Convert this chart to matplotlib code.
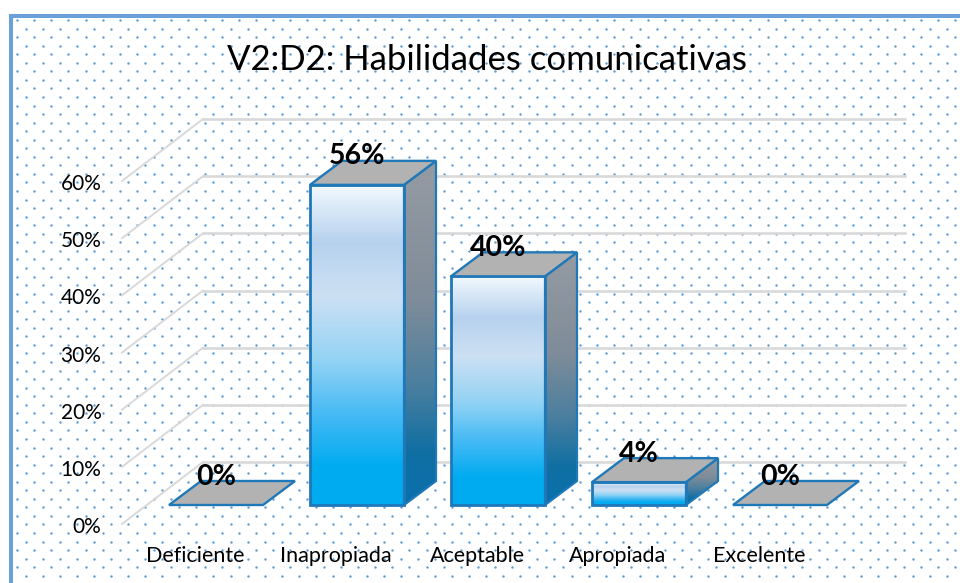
import numpy as np
import matplotlib
matplotlib.use("Agg")
import matplotlib.pyplot as plt
from matplotlib.colors import LinearSegmentedColormap
from matplotlib.patches import Polygon
from matplotlib.transforms import ScaledTranslation

plt.rcParams['font.family'] = ['Lato', 'DejaVu Sans']

# -------------------------------------------------------
# DATA
# -------------------------------------------------------
categories = ["Deficiente", "Inapropiada", "Aceptable", "Apropiada", "Excelente"]
values = [0, 56, 40, 4, 0]
value_labels = ["0%", "56%", "40%", "4%", "0%"]
y_ticks = [0, 10, 20, 30, 40, 50, 60]
y_tick_labels = ["0%", "10%", "20%", "30%", "40%", "50%", "60%"]
title = "V2:D2: Habilidades comunicativas"

W, H = 960, 583
EDGE = "#1F78B8"

fig = plt.figure(figsize=(W / 100, H / 100), dpi=100, facecolor="white")

# -------------------------------------------------------
# DOTTED BACKGROUND + BORDER
# -------------------------------------------------------
bg = fig.add_axes([0, 0, 1, 1], zorder=0)
bg.set_xlim(0, W)
bg.set_ylim(H, 0)
bg.axis("off")
for row, yy in enumerate(np.arange(20, H, 8.55)):
    xs = np.arange(17.3 if row % 2 == 0 else 25.9, W, 17.05)
    bg.scatter(xs, np.full_like(xs, yy), s=3.0, color="#5B9BD5", linewidths=0)
bg.plot([10.5, 10.5, W], [H, 15.5, 15.5], color="#6AA0D8", lw=2.9, solid_joinstyle="miter")

# -------------------------------------------------------
# CHART (axes = plane of the bar fronts)
# -------------------------------------------------------
left, right, base, top = 145.5, 850.5, 505, 162
ax = fig.add_axes([left / W, 1 - base / H, (right - left) / W, (base - top) / H], zorder=1)
ax.patch.set_alpha(0)
ax.set_xlim(-0.5, 4.5)
ax.set_ylim(0, 60)
for s in ax.spines.values():
    s.set_visible(False)

px_x = 5 / (right - left)
px_y = 60 / (base - top)

# gridlines on back wall and floor/wall diagonals
for t in y_ticks:
    x_back0 = -0.5 + (203 - left) * px_x
    x_back1 = -0.5 + (905 - left) * px_x
    y_back = t + (505 - 462) * px_y
    ax.plot([x_back0, x_back1], [y_back, y_back], color="#D9D9D9", lw=1.9, clip_on=False, zorder=1)
    ax.plot([-0.5 + (122 - left) * px_x, x_back0], [t - 19 * px_y, y_back], color="#D9D9D9", lw=1.4,
            clip_on=False, zorder=1)

front_cmap = LinearSegmentedColormap.from_list("front", [
    (0.0, "#F2F9FE"), (0.18, "#B7D2EE"), (0.35, "#CCE0F3"), (0.55, "#93D3F4"),
    (0.72, "#45BAF5"), (0.88, "#00ABF0"), (1.0, "#00ABF0")])
side_cmap = LinearSegmentedColormap.from_list("side", [
    (0.0, "#959BA3"), (0.4, "#7F8C99"), (0.65, "#4B7F9F"), (0.85, "#0F6FA3"), (1.0, "#0A70AC")])

bar_w = (404 - 310) * px_x
dx = 32 * px_x
dy = 24 * px_y
grad = np.linspace(0, 1, 256).reshape(-1, 1)

for i, v in enumerate(values):
    x0 = i - bar_w / 2
    x1 = i + bar_w / 2
    if v > 0:
        im = ax.imshow(grad, cmap=front_cmap, extent=(x0, x1, 0, v), aspect="auto", zorder=3)
        im.set_clip_path(Polygon([(x0, 0), (x1, 0), (x1, v), (x0, v)], transform=ax.transData))
        side_pts = [(x1, 0), (x1 + dx, dy), (x1 + dx, v + dy), (x1, v)]
        im2 = ax.imshow(grad, cmap=side_cmap, extent=(x1, x1 + dx, 0, v + dy), aspect="auto", zorder=3)
        im2.set_clip_path(Polygon(side_pts, transform=ax.transData))
        ax.add_patch(Polygon(side_pts, closed=True, fc="none", ec=EDGE, lw=1.6, zorder=4, clip_on=False))
        ax.add_patch(Polygon([(x0, 0), (x1, 0), (x1, v), (x0, v)], closed=True, fc="none", ec=EDGE, lw=2.0,
                             zorder=5, clip_on=False))
    ax.add_patch(Polygon([(x0, v), (x1, v), (x1 + dx, v + dy), (x0 + dx, v + dy)], closed=True,
                         fc="#B2B2B2", ec=EDGE, lw=1.7, zorder=5, clip_on=False))
    ax.annotate(value_labels[i], (i, v), xytext=(0, 20.5), textcoords="offset points", ha="center",
                va="center", fontsize=20.5, fontweight="bold", color="black", zorder=6, annotation_clip=False)

ax.set_xlim(-0.5, 4.5)
ax.set_ylim(0, 60)

# axis labels sit off the bar plane, shifted with the 3D floor
ax.set_xticks(range(len(categories)))
ax.set_xticklabels(categories, fontsize=15.5)
ax.set_yticks(y_ticks)
ax.set_yticklabels(y_tick_labels, fontsize=15)
ax.tick_params(length=0, pad=0)
shift_x = ScaledTranslation(-21 / 100, -41 / 100, fig.dpi_scale_trans)
shift_y = ScaledTranslation(-44 / 100, -20 / 100, fig.dpi_scale_trans)
for lab in ax.get_xticklabels():
    lab.set_transform(lab.get_transform() + shift_x)
for lab in ax.get_yticklabels():
    lab.set_transform(lab.get_transform() + shift_y)

fig.text(487 / W, 1 - 60 / H, title, ha="center", va="center", fontsize=25, color="black", zorder=3)

fig.savefig("out.png", dpi=100)
